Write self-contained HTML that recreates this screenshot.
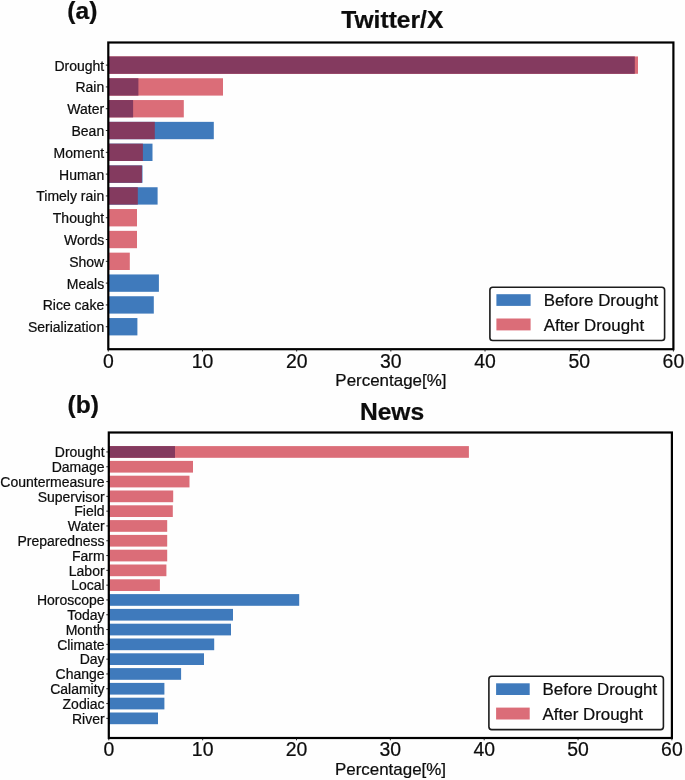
<!DOCTYPE html>
<html lang="en">
<head>
<meta charset="utf-8">
<title>Word frequency before and after drought</title>
<style>
html,body{margin:0;padding:0;background:#fefefe;}
body{width:685px;height:780px;overflow:hidden;}
svg{display:block;font-family:"Liberation Sans", sans-serif;fill:#0d0d0d;}
svg text{fill:#0d0d0d;stroke:#0d0d0d;stroke-width:0.22px;}
</style>
</head>
<body>
<svg width="685" height="780" viewBox="0 0 685 780">
<rect x="0" y="0" width="685" height="780" fill="#fefefe"/>
<g id="chart-a">
<rect x="108.30" y="56.45" width="529.70" height="17.35" fill="#db6d78"/>
<rect x="108.30" y="56.45" width="526.50" height="17.35" fill="#843a5f"/>
<line x1="105.80" y1="65.12" x2="108.30" y2="65.12" stroke="#0d0d0d" stroke-width="0.9"/>
<text x="104.20" y="70.53" text-anchor="end" font-size="14">Drought</text>
<rect x="108.30" y="78.25" width="114.70" height="17.35" fill="#db6d78"/>
<rect x="108.30" y="78.25" width="30.10" height="17.35" fill="#843a5f"/>
<line x1="105.80" y1="86.92" x2="108.30" y2="86.92" stroke="#0d0d0d" stroke-width="0.9"/>
<text x="104.20" y="92.33" text-anchor="end" font-size="14">Rain</text>
<rect x="108.30" y="100.05" width="75.50" height="17.35" fill="#db6d78"/>
<rect x="108.30" y="100.05" width="24.80" height="17.35" fill="#843a5f"/>
<line x1="105.80" y1="108.73" x2="108.30" y2="108.73" stroke="#0d0d0d" stroke-width="0.9"/>
<text x="104.20" y="114.13" text-anchor="end" font-size="14">Water</text>
<rect x="108.30" y="121.85" width="105.50" height="17.35" fill="#3f7abc"/>
<rect x="108.30" y="121.85" width="46.50" height="17.35" fill="#843a5f"/>
<line x1="105.80" y1="130.53" x2="108.30" y2="130.53" stroke="#0d0d0d" stroke-width="0.9"/>
<text x="104.20" y="135.93" text-anchor="end" font-size="14">Bean</text>
<rect x="108.30" y="143.65" width="44.20" height="17.35" fill="#3f7abc"/>
<rect x="108.30" y="143.65" width="34.60" height="17.35" fill="#843a5f"/>
<line x1="105.80" y1="152.33" x2="108.30" y2="152.33" stroke="#0d0d0d" stroke-width="0.9"/>
<text x="104.20" y="157.73" text-anchor="end" font-size="14">Moment</text>
<rect x="108.30" y="165.45" width="34.20" height="17.35" fill="#3f7abc"/>
<rect x="108.30" y="165.45" width="33.60" height="17.35" fill="#843a5f"/>
<line x1="105.80" y1="174.12" x2="108.30" y2="174.12" stroke="#0d0d0d" stroke-width="0.9"/>
<text x="104.20" y="179.53" text-anchor="end" font-size="14">Human</text>
<rect x="108.30" y="187.25" width="49.30" height="17.35" fill="#3f7abc"/>
<rect x="108.30" y="187.25" width="29.50" height="17.35" fill="#843a5f"/>
<line x1="105.80" y1="195.93" x2="108.30" y2="195.93" stroke="#0d0d0d" stroke-width="0.9"/>
<text x="104.20" y="201.33" text-anchor="end" font-size="14">Timely rain</text>
<rect x="108.30" y="209.05" width="28.70" height="17.35" fill="#db6d78"/>
<line x1="105.80" y1="217.73" x2="108.30" y2="217.73" stroke="#0d0d0d" stroke-width="0.9"/>
<text x="104.20" y="223.13" text-anchor="end" font-size="14">Thought</text>
<rect x="108.30" y="230.85" width="28.70" height="17.35" fill="#db6d78"/>
<line x1="105.80" y1="239.53" x2="108.30" y2="239.53" stroke="#0d0d0d" stroke-width="0.9"/>
<text x="104.20" y="244.93" text-anchor="end" font-size="14">Words</text>
<rect x="108.30" y="252.65" width="21.50" height="17.35" fill="#db6d78"/>
<line x1="105.80" y1="261.33" x2="108.30" y2="261.33" stroke="#0d0d0d" stroke-width="0.9"/>
<text x="104.20" y="266.73" text-anchor="end" font-size="14">Show</text>
<rect x="108.30" y="274.45" width="50.60" height="17.35" fill="#3f7abc"/>
<line x1="105.80" y1="283.12" x2="108.30" y2="283.12" stroke="#0d0d0d" stroke-width="0.9"/>
<text x="104.20" y="288.52" text-anchor="end" font-size="14">Meals</text>
<rect x="108.30" y="296.25" width="45.50" height="17.35" fill="#3f7abc"/>
<line x1="105.80" y1="304.93" x2="108.30" y2="304.93" stroke="#0d0d0d" stroke-width="0.9"/>
<text x="104.20" y="310.32" text-anchor="end" font-size="14">Rice cake</text>
<rect x="108.30" y="318.05" width="29.10" height="17.35" fill="#3f7abc"/>
<line x1="105.80" y1="326.73" x2="108.30" y2="326.73" stroke="#0d0d0d" stroke-width="0.9"/>
<text x="104.20" y="332.12" text-anchor="end" font-size="14">Serialization</text>
<rect x="108.30" y="42.50" width="565.10" height="306.70" fill="none" stroke="#000" stroke-width="2.2"/>
<line x1="108.30" y1="349.20" x2="108.30" y2="351.50" stroke="#0d0d0d" stroke-width="0.9"/>
<text x="108.30" y="367.80" text-anchor="middle" font-size="19.4">0</text>
<line x1="202.48" y1="349.20" x2="202.48" y2="351.50" stroke="#0d0d0d" stroke-width="0.9"/>
<text x="202.48" y="367.80" text-anchor="middle" font-size="19.4">10</text>
<line x1="296.67" y1="349.20" x2="296.67" y2="351.50" stroke="#0d0d0d" stroke-width="0.9"/>
<text x="296.67" y="367.80" text-anchor="middle" font-size="19.4">20</text>
<line x1="390.85" y1="349.20" x2="390.85" y2="351.50" stroke="#0d0d0d" stroke-width="0.9"/>
<text x="390.85" y="367.80" text-anchor="middle" font-size="19.4">30</text>
<line x1="485.03" y1="349.20" x2="485.03" y2="351.50" stroke="#0d0d0d" stroke-width="0.9"/>
<text x="485.03" y="367.80" text-anchor="middle" font-size="19.4">40</text>
<line x1="579.22" y1="349.20" x2="579.22" y2="351.50" stroke="#0d0d0d" stroke-width="0.9"/>
<text x="579.22" y="367.80" text-anchor="middle" font-size="19.4">50</text>
<line x1="673.40" y1="349.20" x2="673.40" y2="351.50" stroke="#0d0d0d" stroke-width="0.9"/>
<text x="673.40" y="367.80" text-anchor="middle" font-size="19.4">60</text>
<text x="390.90" y="385.90" text-anchor="middle" font-size="16.95">Percentage[%]</text>
<text x="392.30" y="28.20" text-anchor="middle" font-size="24.6" font-weight="bold">Twitter/X</text>
<text x="67.30" y="18.60" text-anchor="start" font-size="24.6" font-weight="bold">(a)</text>
<rect x="489.90" y="287.20" width="174.70" height="53.30" rx="2.8" ry="2.8" fill="#fff" stroke="#1c1c1c" stroke-width="1.6"/>
<rect x="496.40" y="294.20" width="34.2" height="11.7" fill="#3f7abc"/>
<rect x="496.40" y="318.50" width="34.2" height="11.9" fill="#db6d78"/>
<text x="543.70" y="305.90" font-size="16.9">Before Drought</text>
<text x="543.70" y="330.50" font-size="16.9">After Drought</text>
</g>
<g id="chart-b">
<rect x="108.80" y="446.10" width="360.10" height="11.70" fill="#db6d78"/>
<rect x="108.80" y="446.10" width="66.20" height="11.70" fill="#843a5f"/>
<line x1="106.30" y1="451.95" x2="108.80" y2="451.95" stroke="#0d0d0d" stroke-width="0.9"/>
<text x="104.60" y="457.25" text-anchor="end" font-size="14">Drought</text>
<rect x="108.80" y="460.90" width="84.20" height="11.70" fill="#db6d78"/>
<line x1="106.30" y1="466.75" x2="108.80" y2="466.75" stroke="#0d0d0d" stroke-width="0.9"/>
<text x="104.60" y="472.05" text-anchor="end" font-size="14">Damage</text>
<rect x="108.80" y="475.70" width="80.70" height="11.70" fill="#db6d78"/>
<line x1="106.30" y1="481.55" x2="108.80" y2="481.55" stroke="#0d0d0d" stroke-width="0.9"/>
<text x="104.60" y="486.85" text-anchor="end" font-size="14">Countermeasure</text>
<rect x="108.80" y="490.50" width="64.40" height="11.70" fill="#db6d78"/>
<line x1="106.30" y1="496.35" x2="108.80" y2="496.35" stroke="#0d0d0d" stroke-width="0.9"/>
<text x="104.60" y="501.65" text-anchor="end" font-size="14">Supervisor</text>
<rect x="108.80" y="505.30" width="64.00" height="11.70" fill="#db6d78"/>
<line x1="106.30" y1="511.15" x2="108.80" y2="511.15" stroke="#0d0d0d" stroke-width="0.9"/>
<text x="104.60" y="516.45" text-anchor="end" font-size="14">Field</text>
<rect x="108.80" y="520.10" width="58.40" height="11.70" fill="#db6d78"/>
<line x1="106.30" y1="525.95" x2="108.80" y2="525.95" stroke="#0d0d0d" stroke-width="0.9"/>
<text x="104.60" y="531.25" text-anchor="end" font-size="14">Water</text>
<rect x="108.80" y="534.90" width="58.40" height="11.70" fill="#db6d78"/>
<line x1="106.30" y1="540.75" x2="108.80" y2="540.75" stroke="#0d0d0d" stroke-width="0.9"/>
<text x="104.60" y="546.05" text-anchor="end" font-size="14">Preparedness</text>
<rect x="108.80" y="549.70" width="58.40" height="11.70" fill="#db6d78"/>
<line x1="106.30" y1="555.55" x2="108.80" y2="555.55" stroke="#0d0d0d" stroke-width="0.9"/>
<text x="104.60" y="560.85" text-anchor="end" font-size="14">Farm</text>
<rect x="108.80" y="564.50" width="57.60" height="11.70" fill="#db6d78"/>
<line x1="106.30" y1="570.35" x2="108.80" y2="570.35" stroke="#0d0d0d" stroke-width="0.9"/>
<text x="104.60" y="575.65" text-anchor="end" font-size="14">Labor</text>
<rect x="108.80" y="579.30" width="51.10" height="11.70" fill="#db6d78"/>
<line x1="106.30" y1="585.15" x2="108.80" y2="585.15" stroke="#0d0d0d" stroke-width="0.9"/>
<text x="104.60" y="590.45" text-anchor="end" font-size="14">Local</text>
<rect x="108.80" y="594.10" width="190.40" height="11.70" fill="#3f7abc"/>
<line x1="106.30" y1="599.95" x2="108.80" y2="599.95" stroke="#0d0d0d" stroke-width="0.9"/>
<text x="104.60" y="605.25" text-anchor="end" font-size="14">Horoscope</text>
<rect x="108.80" y="608.90" width="124.20" height="11.70" fill="#3f7abc"/>
<line x1="106.30" y1="614.75" x2="108.80" y2="614.75" stroke="#0d0d0d" stroke-width="0.9"/>
<text x="104.60" y="620.05" text-anchor="end" font-size="14">Today</text>
<rect x="108.80" y="623.70" width="122.20" height="11.70" fill="#3f7abc"/>
<line x1="106.30" y1="629.55" x2="108.80" y2="629.55" stroke="#0d0d0d" stroke-width="0.9"/>
<text x="104.60" y="634.85" text-anchor="end" font-size="14">Month</text>
<rect x="108.80" y="638.50" width="105.40" height="11.70" fill="#3f7abc"/>
<line x1="106.30" y1="644.35" x2="108.80" y2="644.35" stroke="#0d0d0d" stroke-width="0.9"/>
<text x="104.60" y="649.65" text-anchor="end" font-size="14">Climate</text>
<rect x="108.80" y="653.30" width="95.20" height="11.70" fill="#3f7abc"/>
<line x1="106.30" y1="659.15" x2="108.80" y2="659.15" stroke="#0d0d0d" stroke-width="0.9"/>
<text x="104.60" y="664.45" text-anchor="end" font-size="14">Day</text>
<rect x="108.80" y="668.10" width="72.30" height="11.70" fill="#3f7abc"/>
<line x1="106.30" y1="673.95" x2="108.80" y2="673.95" stroke="#0d0d0d" stroke-width="0.9"/>
<text x="104.60" y="679.25" text-anchor="end" font-size="14">Change</text>
<rect x="108.80" y="682.90" width="55.60" height="11.70" fill="#3f7abc"/>
<line x1="106.30" y1="688.75" x2="108.80" y2="688.75" stroke="#0d0d0d" stroke-width="0.9"/>
<text x="104.60" y="694.05" text-anchor="end" font-size="14">Calamity</text>
<rect x="108.80" y="697.70" width="55.60" height="11.70" fill="#3f7abc"/>
<line x1="106.30" y1="703.55" x2="108.80" y2="703.55" stroke="#0d0d0d" stroke-width="0.9"/>
<text x="104.60" y="708.85" text-anchor="end" font-size="14">Zodiac</text>
<rect x="108.80" y="712.50" width="49.20" height="11.70" fill="#3f7abc"/>
<line x1="106.30" y1="718.35" x2="108.80" y2="718.35" stroke="#0d0d0d" stroke-width="0.9"/>
<text x="104.60" y="723.65" text-anchor="end" font-size="14">River</text>
<rect x="108.80" y="432.50" width="563.10" height="305.50" fill="none" stroke="#000" stroke-width="2.2"/>
<line x1="108.80" y1="738.00" x2="108.80" y2="740.30" stroke="#0d0d0d" stroke-width="0.9"/>
<text x="108.80" y="756.40" text-anchor="middle" font-size="19.4">0</text>
<line x1="202.65" y1="738.00" x2="202.65" y2="740.30" stroke="#0d0d0d" stroke-width="0.9"/>
<text x="202.65" y="756.40" text-anchor="middle" font-size="19.4">10</text>
<line x1="296.50" y1="738.00" x2="296.50" y2="740.30" stroke="#0d0d0d" stroke-width="0.9"/>
<text x="296.50" y="756.40" text-anchor="middle" font-size="19.4">20</text>
<line x1="390.35" y1="738.00" x2="390.35" y2="740.30" stroke="#0d0d0d" stroke-width="0.9"/>
<text x="390.35" y="756.40" text-anchor="middle" font-size="19.4">30</text>
<line x1="484.20" y1="738.00" x2="484.20" y2="740.30" stroke="#0d0d0d" stroke-width="0.9"/>
<text x="484.20" y="756.40" text-anchor="middle" font-size="19.4">40</text>
<line x1="578.05" y1="738.00" x2="578.05" y2="740.30" stroke="#0d0d0d" stroke-width="0.9"/>
<text x="578.05" y="756.40" text-anchor="middle" font-size="19.4">50</text>
<line x1="671.90" y1="738.00" x2="671.90" y2="740.30" stroke="#0d0d0d" stroke-width="0.9"/>
<text x="671.90" y="756.40" text-anchor="middle" font-size="19.4">60</text>
<text x="390.50" y="775.00" text-anchor="middle" font-size="16.95">Percentage[%]</text>
<text x="392.00" y="419.50" text-anchor="middle" font-size="24.6" font-weight="bold">News</text>
<text x="67.50" y="412.60" text-anchor="start" font-size="24.6" font-weight="bold">(b)</text>
<rect x="488.90" y="676.30" width="174.50" height="53.30" rx="2.8" ry="2.8" fill="#fff" stroke="#1c1c1c" stroke-width="1.6"/>
<rect x="496.10" y="683.30" width="33.6" height="11.7" fill="#3f7abc"/>
<rect x="496.10" y="707.60" width="33.6" height="11.9" fill="#db6d78"/>
<text x="542.60" y="695.00" font-size="16.9">Before Drought</text>
<text x="542.60" y="719.60" font-size="16.9">After Drought</text>
</g>
</svg>
</body>
</html>
